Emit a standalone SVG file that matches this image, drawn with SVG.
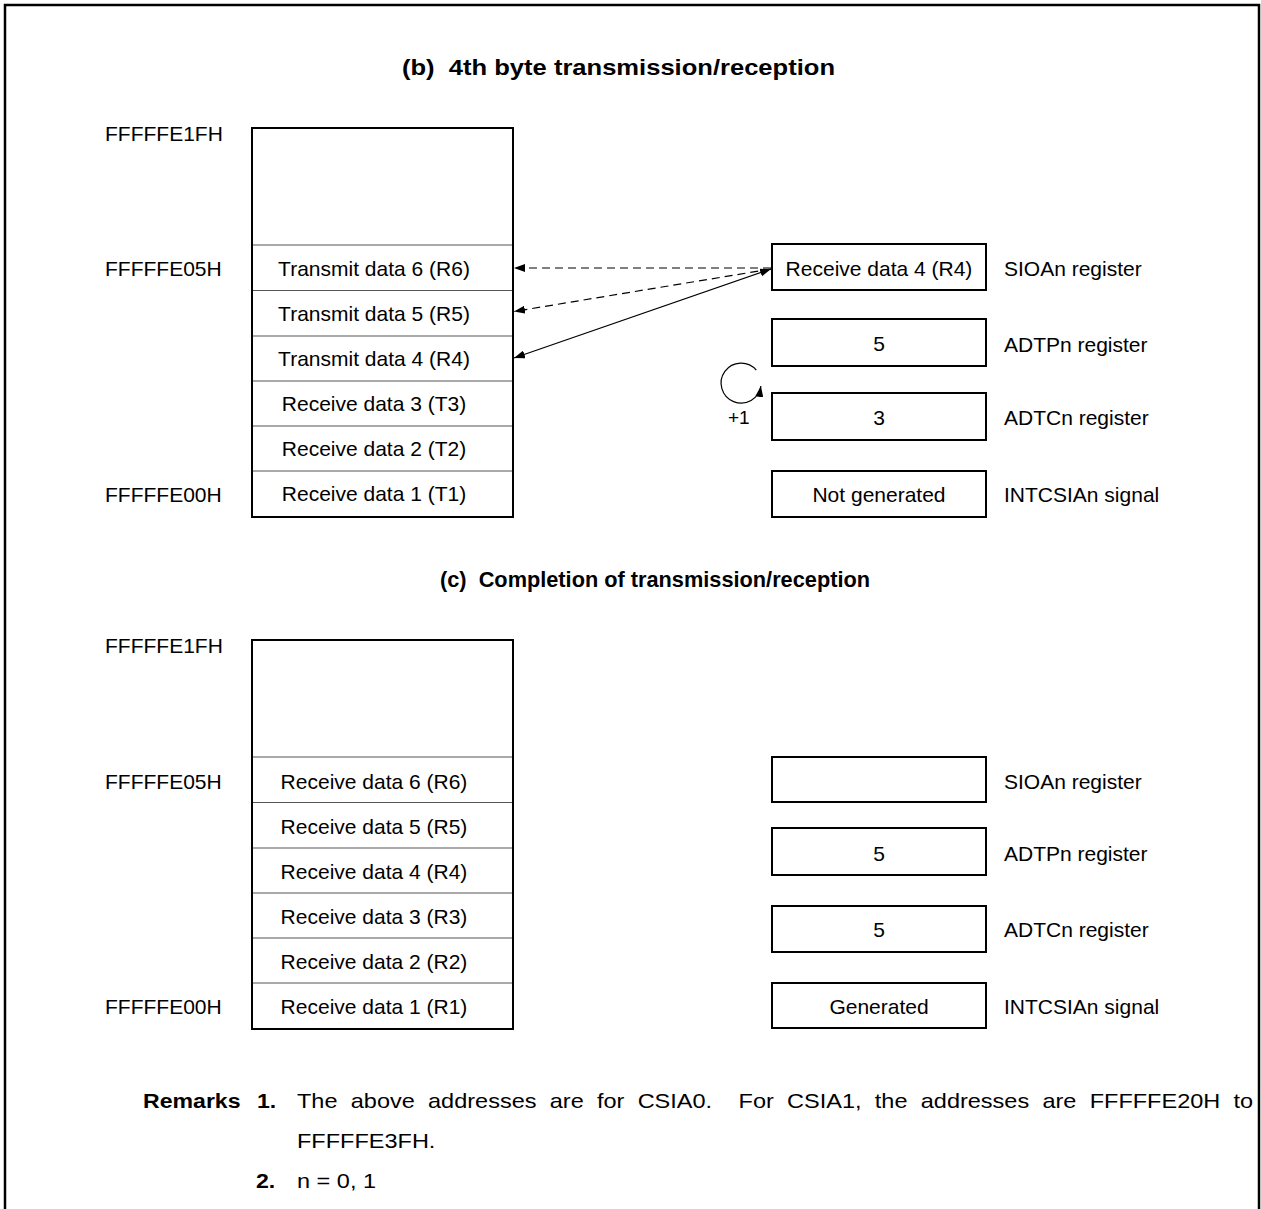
<svg xmlns="http://www.w3.org/2000/svg" width="1261" height="1209" viewBox="0 0 1261 1209">
<style>
text{font-family:"Liberation Sans",Arial,sans-serif;font-size:21px;fill:#000}
.c{text-anchor:middle}
.b{font-weight:bold}
.box{fill:#fff;stroke:#000;stroke-width:2}
.row{stroke:#555;stroke-width:1}
.ln{fill:none;stroke:#000;stroke-width:1.2}
.dash{stroke-dasharray:8 5}
</style>
<defs>
<marker id="ah" viewBox="0 0 11 8" refX="11" refY="4" markerWidth="11" markerHeight="8" markerUnits="userSpaceOnUse" orient="auto-start-reverse">
<path d="M0,0 L11,4 L0,8 Z" fill="#000"/>
</marker>
</defs>
<path d="M5,1209 V5 H1259 V1209" fill="none" stroke="#000" stroke-width="2.5"/>

<text class="b" x="402" y="75" textLength="433" lengthAdjust="spacingAndGlyphs" style="white-space:pre;font-size:22px">(b)  4th byte transmission/reception</text>
<text class="b" x="440" y="587" textLength="430" lengthAdjust="spacingAndGlyphs" style="white-space:pre;font-size:22px">(c)  Completion of transmission/reception</text>

<g id="mem-b">
<rect class="box" x="252" y="128" width="261" height="389"/>
<line class="row" x1="253" y1="245" x2="512" y2="245"/>
<line class="row" x1="253" y1="290.5" x2="512" y2="290.5"/>
<line class="row" x1="253" y1="336" x2="512" y2="336"/>
<line class="row" x1="253" y1="381" x2="512" y2="381"/>
<line class="row" x1="253" y1="426" x2="512" y2="426"/>
<line class="row" x1="253" y1="471" x2="512" y2="471"/>
<text class="c" x="374" y="276">Transmit data 6 (R6)</text>
<text class="c" x="374" y="321">Transmit data 5 (R5)</text>
<text class="c" x="374" y="366">Transmit data 4 (R4)</text>
<text class="c" x="374" y="411">Receive data 3 (T3)</text>
<text class="c" x="374" y="456">Receive data 2 (T2)</text>
<text class="c" x="374" y="501">Receive data 1 (T1)</text>
</g>
<g id="addr-b">
<text x="105" y="141">FFFFFE1FH</text>
<text x="105" y="276">FFFFFE05H</text>
<text x="105" y="502">FFFFFE00H</text>
</g>
<g id="sioa-b"><rect class="box" x="772" y="244" width="214" height="46"/><text class="c" x="879" y="276">Receive data 4 (R4)</text><text x="1004" y="276">SIOAn register</text></g>
<g id="adtp-b"><rect class="box" x="772" y="319" width="214" height="47"/><text class="c" x="879" y="351">5</text><text x="1004" y="352">ADTPn register</text></g>
<g id="adtc-b"><rect class="box" x="772" y="393" width="214" height="47"/><text class="c" x="879" y="425">3</text><text x="1004" y="425">ADTCn register</text></g>
<g id="int-b"><rect class="box" x="772" y="471" width="214" height="46"/><text class="c" x="879" y="502">Not generated</text><text x="1004" y="502">INTCSIAn signal</text></g>

<g id="connectors">
<line class="ln dash" x1="771" y1="268" x2="514" y2="268" marker-end="url(#ah)"/>
<line class="ln dash" x1="771" y1="269" x2="514" y2="311.5" marker-end="url(#ah)"/>
<line class="ln" x1="771" y1="269" x2="514" y2="358" marker-start="url(#ah)" marker-end="url(#ah)"/>
<path class="ln" d="M756.3,370.1 A20,20 0 1 0 760.9,386" marker-end="url(#ah)"/>
</g>
<text x="728" y="424" style="font-size:19px">+1</text>

<g id="mem-c">
<rect class="box" x="252" y="640" width="261" height="389"/>
<line class="row" x1="253" y1="757" x2="512" y2="757"/>
<line class="row" x1="253" y1="802.5" x2="512" y2="802.5"/>
<line class="row" x1="253" y1="848" x2="512" y2="848"/>
<line class="row" x1="253" y1="893" x2="512" y2="893"/>
<line class="row" x1="253" y1="938" x2="512" y2="938"/>
<line class="row" x1="253" y1="983" x2="512" y2="983"/>
<text class="c" x="374" y="789">Receive data 6 (R6)</text>
<text class="c" x="374" y="834">Receive data 5 (R5)</text>
<text class="c" x="374" y="879">Receive data 4 (R4)</text>
<text class="c" x="374" y="924">Receive data 3 (R3)</text>
<text class="c" x="374" y="969">Receive data 2 (R2)</text>
<text class="c" x="374" y="1014">Receive data 1 (R1)</text>
</g>
<g id="addr-c">
<text x="105" y="653">FFFFFE1FH</text>
<text x="105" y="789">FFFFFE05H</text>
<text x="105" y="1014">FFFFFE00H</text>
</g>
<g id="sioa-c"><rect class="box" x="772" y="757" width="214" height="45"/><text x="1004" y="789">SIOAn register</text></g>
<g id="adtp-c"><rect class="box" x="772" y="828" width="214" height="47"/><text class="c" x="879" y="861">5</text><text x="1004" y="861">ADTPn register</text></g>
<g id="adtc-c"><rect class="box" x="772" y="906" width="214" height="46"/><text class="c" x="879" y="937">5</text><text x="1004" y="937">ADTCn register</text></g>
<g id="int-c"><rect class="box" x="772" y="983" width="214" height="45"/><text class="c" x="879" y="1014">Generated</text><text x="1004" y="1014">INTCSIAn signal</text></g>

<g id="remarks">
<text class="b" transform="translate(143,1108) scale(1.1,1)">Remarks</text>
<text class="b" transform="translate(257,1108) scale(1.1,1)">1.</text>
<text transform="translate(297,1108) scale(1.12,1)" style="white-space:pre;word-spacing:6px">The above addresses are for CSIA0.  For CSIA1, the addresses are FFFFFE20H to</text>
<text transform="translate(297,1148) scale(1.12,1)">FFFFFE3FH.</text>
<text class="b" transform="translate(256,1188) scale(1.1,1)">2.</text>
<text transform="translate(297,1188) scale(1.12,1)">n = 0, 1</text>
</g>
</svg>
